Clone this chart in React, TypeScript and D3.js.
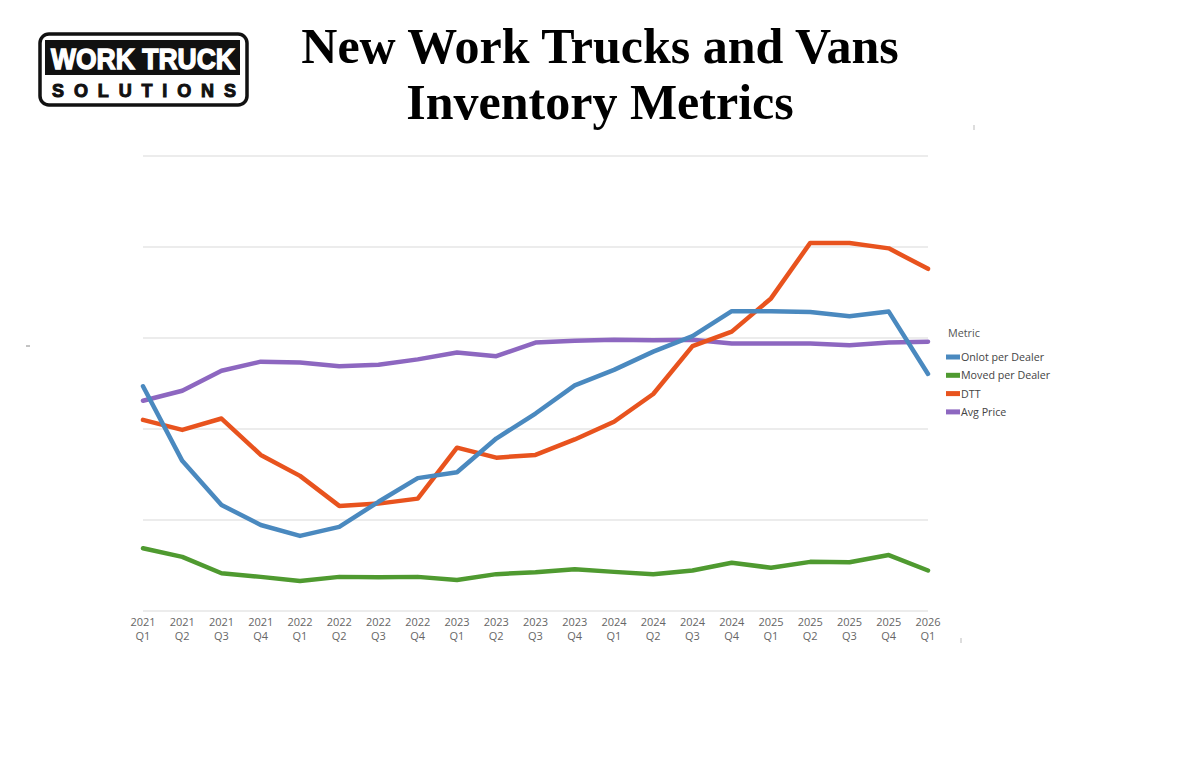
import React from "react";
import * as d3 from "d3";

const quarters = [
  "2021 Q1", "2021 Q2", "2021 Q3", "2021 Q4",
  "2022 Q1", "2022 Q2", "2022 Q3", "2022 Q4",
  "2023 Q1", "2023 Q2", "2023 Q3", "2023 Q4",
  "2024 Q1", "2024 Q2", "2024 Q3", "2024 Q4",
  "2025 Q1", "2025 Q2", "2025 Q3", "2025 Q4",
  "2026 Q1",
];

const onlotPerDealer = [49.4, 33.0, 23.3, 18.9, 16.5, 18.5, 24.0, 29.2, 30.5, 37.9, 43.4, 49.6, 53.0, 57.0, 60.4, 65.9, 65.9, 65.7, 64.8, 65.8, 52.1];
const movedPerDealer = [13.8, 11.9, 8.3, 7.5, 6.6, 7.5, 7.4, 7.5, 6.8, 8.1, 8.5, 9.2, 8.6, 8.1, 8.9, 10.6, 9.5, 10.8, 10.7, 12.3, 8.9];
const dtt = [42.0, 39.8, 42.3, 34.3, 29.7, 23.1, 23.6, 24.7, 35.9, 33.7, 34.3, 37.7, 41.6, 47.7, 58.2, 61.4, 68.7, 80.9, 80.9, 79.7, 75.2];
const avgPrice = [46.2, 48.4, 52.8, 54.8, 54.6, 53.8, 54.1, 55.3, 56.8, 56.0, 59.0, 59.4, 59.6, 59.5, 59.6, 58.8, 58.8, 58.8, 58.4, 59.0, 59.2];

const seriesNames = ["Onlot per Dealer", "Moved per Dealer", "DTT", "Avg Price"];
const seriesColors = ["#4a89bf", "#4f9a30", "#e8531e", "#8d67c0"];
const gridTicks = [0, 20, 40, 60, 80, 100];

export default function App() {
  const x = d3.scalePoint<string>().domain(quarters).range([143, 928]);
  const y = d3.scaleLinear().domain([0, 100]).range([611, 156]);
  const line = d3
    .line<number>()
    .x((_, i) => x(quarters[i]) as number)
    .y((d) => y(d));

  const allSeries = [onlotPerDealer, movedPerDealer, dtt, avgPrice];
  const drawOrder = [1, 3, 2, 0];

  return (
    <svg
      width={1200}
      height={768}
      style={{ position: "absolute", left: 0, top: 0, background: "#fff" }}
    >
      {/* Logo */}
      <g>
        <rect x={40} y={34} width={207} height={71} rx={9} ry={9} fill="#fff" stroke="#111" strokeWidth={3.5} />
        <rect x={45} y={40} width={195} height={35} fill="#111" />
        <text
          x={143}
          y={68.5}
          textAnchor="middle"
          fill="#fff"
          fontFamily="'Liberation Sans', Arial, sans-serif"
          fontWeight={900}
          fontSize={30}
          textLength={184}
          lengthAdjust="spacingAndGlyphs"
          stroke="#fff"
          strokeWidth={1.4}
        >
          WORK TRUCK
        </text>
        <text
          x={52}
          y={97}
          fill="#111"
          fontFamily="'Liberation Sans', Arial, sans-serif"
          fontWeight={700}
          fontSize={18}
          textLength={184}
          lengthAdjust="spacing"
          stroke="#111"
          strokeWidth={1}
        >
          SOLUTIONS
        </text>
      </g>

      {/* Title */}
      <text
        x={600}
        y={63}
        textAnchor="middle"
        fontFamily="'Liberation Serif', 'Times New Roman', serif"
        fontWeight={700}
        fontSize={50}
        fill="#000"
      >
        New Work Trucks and Vans
      </text>
      <text
        x={600}
        y={119}
        textAnchor="middle"
        fontFamily="'Liberation Serif', 'Times New Roman', serif"
        fontWeight={700}
        fontSize={50}
        fill="#000"
      >
        Inventory Metrics
      </text>

      {/* Gridlines */}
      {gridTicks.map((t) => (
        <line
          key={t}
          x1={143}
          x2={928}
          y1={y(t)}
          y2={y(t)}
          stroke="#d9d9d9"
          strokeWidth={1}
        />
      ))}

      {/* X axis labels */}
      {quarters.map((q) => {
        const [yr, qt] = q.split(" ");
        return (
          <text
            key={q}
            x={x(q)}
            textAnchor="middle"
            fontFamily="'Open Sans', 'Noto Sans', sans-serif"
            fontSize={11}
            fill="#666"
          >
            <tspan x={x(q)} y={626}>{yr}</tspan>
            <tspan x={x(q)} y={640}>{qt}</tspan>
          </text>
        );
      })}

      {/* Lines */}
      {drawOrder.map((si) => (
        <path
          key={si}
          d={line(allSeries[si]) ?? ""}
          fill="none"
          stroke={seriesColors[si]}
          strokeWidth={4.5}
          strokeLinejoin="round"
          strokeLinecap="round"
        />
      ))}

      {/* Legend */}
      <text
        x={948}
        y={337}
        fontFamily="'Open Sans', 'Noto Sans', sans-serif"
        fontSize={10.8}
        fill="#555"
      >
        Metric
      </text>
      {seriesNames.map((n, i) => (
        <g key={n} transform={`translate(946, ${357 + i * 18.3})`}>
          <rect x={0} y={-2.5} width={14} height={5} fill={seriesColors[i]} />
          <text
            x={15}
            y={4}
            fontFamily="'Open Sans', 'Noto Sans', sans-serif"
            fontSize={10.7}
            fill="#444"
          >
            {n}
          </text>
        </g>
      ))}

      {/* small stray marks */}
      <line x1={974} x2={974} y1={125} y2={130} stroke="#bbb" strokeWidth={1} />
      <line x1={26} x2={30} y1={346} y2={346} stroke="#888" strokeWidth={1} />
      <line x1={961} x2={961} y1={638} y2={643} stroke="#bbb" strokeWidth={1} />
    </svg>
  );
}
